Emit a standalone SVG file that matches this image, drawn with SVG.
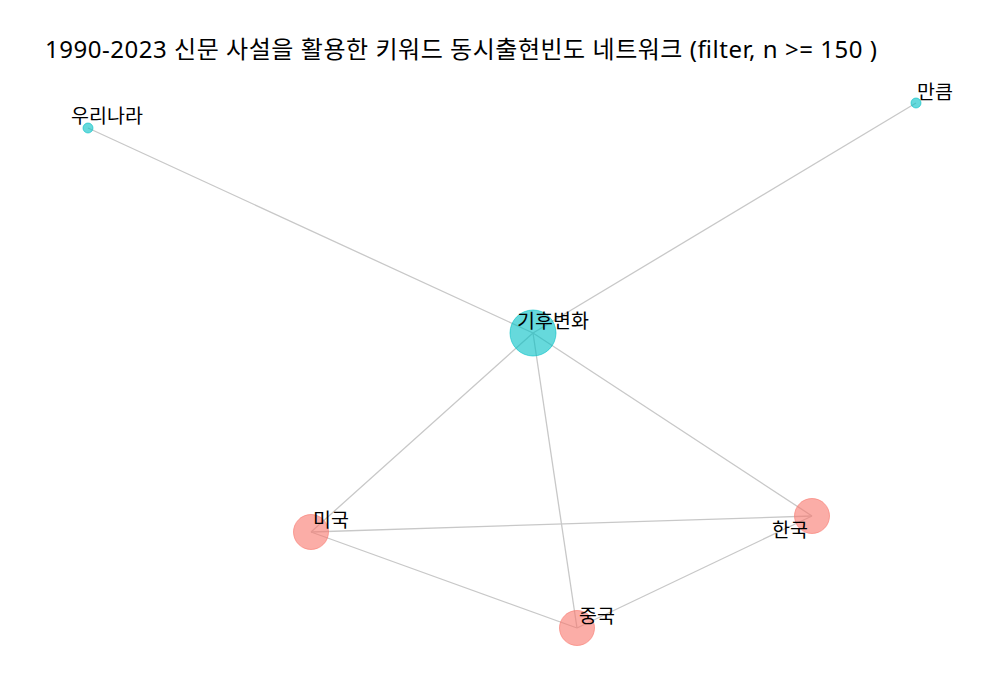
<svg xmlns="http://www.w3.org/2000/svg" width="1000" height="700" viewBox="0 0 1000 700">
<style>
.edge{stroke:#c8c8c8;stroke-width:1.3;fill:none}
.teal{fill:#00BFC4;fill-opacity:0.6;stroke:#00BFC4;stroke-opacity:0.6;stroke-width:1}
.pink{fill:#F8766D;fill-opacity:0.6;stroke:#F8766D;stroke-opacity:0.6;stroke-width:1}
.lbl{font-family:"Noto Sans","Noto Sans CJK KR",sans-serif;font-size:19.5px;fill:#000;text-anchor:middle}
.title{font-family:"Noto Sans","Noto Sans CJK KR",sans-serif;font-size:24px;fill:#000}
</style>
<rect width="1000" height="700" fill="#ffffff"/>
<text class="title" x="45" y="58" textLength="832" lengthAdjust="spacing">1990-2023 신문 사설을 활용한 키워드 동시출현빈도 네트워크 (filter, n &gt;= 150 )</text>
<g id="edges">
<line class="edge" x1="533" y1="333" x2="88" y2="128"/>
<line class="edge" x1="533" y1="333" x2="916" y2="103"/>
<line class="edge" x1="533" y1="333" x2="311" y2="532"/>
<line class="edge" x1="533" y1="333" x2="577" y2="628"/>
<line class="edge" x1="533" y1="333" x2="812" y2="516"/>
<line class="edge" x1="311" y1="532" x2="812" y2="516"/>
<line class="edge" x1="311" y1="532" x2="577" y2="628"/>
<line class="edge" x1="577" y1="628" x2="812" y2="516"/>
</g>
<g id="node-기후변화">
<circle class="teal" cx="533" cy="333" r="23"/>
<text class="lbl" x="553" y="327.5">기후변화</text>
</g>
<g id="node-우리나라">
<circle class="teal" cx="88" cy="128" r="5"/>
<text class="lbl" x="107" y="122.5">우리나라</text>
</g>
<g id="node-만큼">
<circle class="teal" cx="916" cy="103" r="5"/>
<text class="lbl" x="935" y="98.5">만큼</text>
</g>
<g id="node-미국">
<circle class="pink" cx="311" cy="532" r="17.5"/>
<text class="lbl" x="331" y="526.5">미국</text>
</g>
<g id="node-중국">
<circle class="pink" cx="577" cy="628" r="17.5"/>
<text class="lbl" x="597" y="622.5">중국</text>
</g>
<g id="node-한국">
<circle class="pink" cx="812" cy="516" r="17.5"/>
<text class="lbl" x="790" y="536.5">한국</text>
</g>
</svg>
